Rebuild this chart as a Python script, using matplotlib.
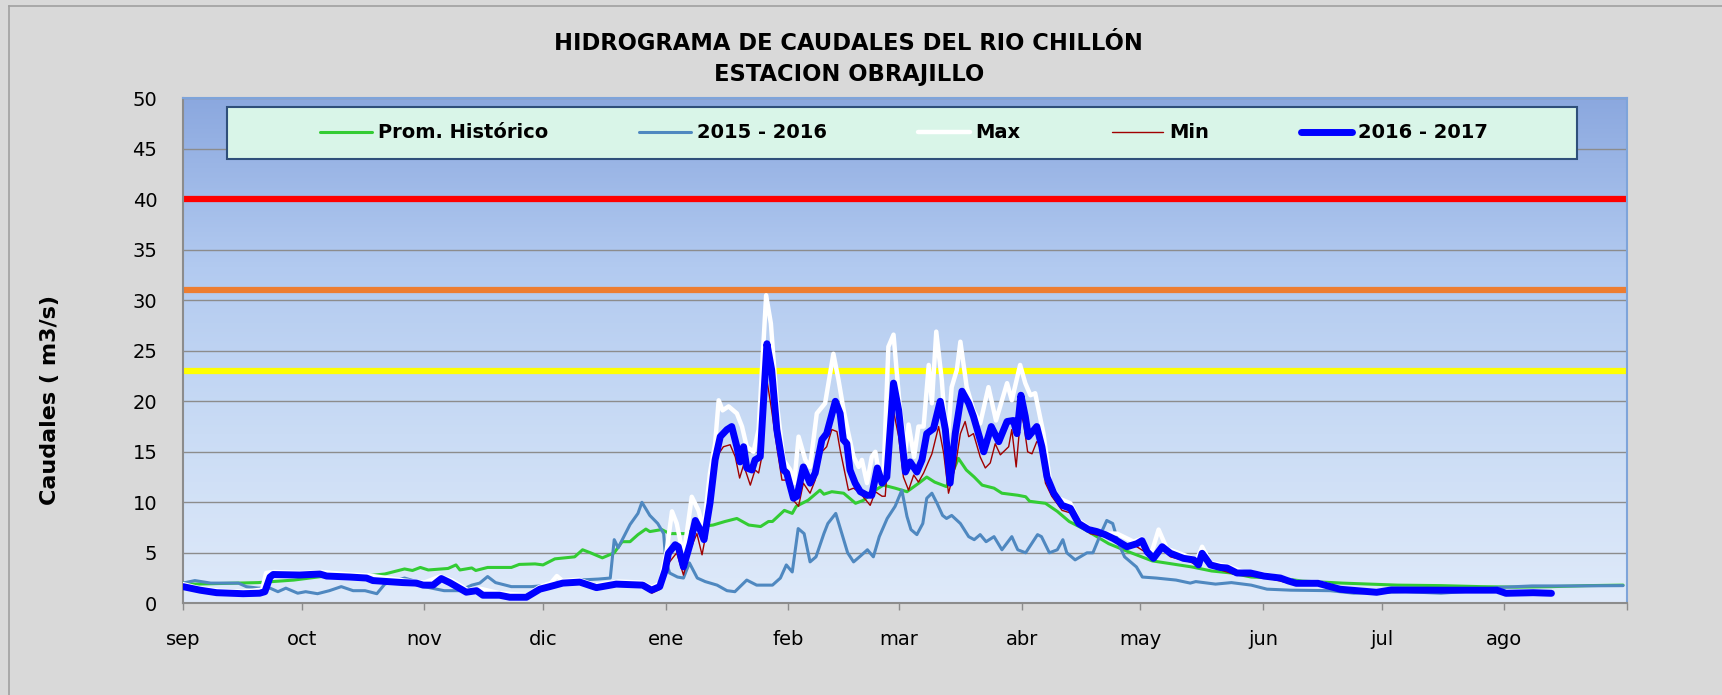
import matplotlib.pyplot as plt
import numpy as np
from matplotlib.colors import LinearSegmentedColormap
from matplotlib.lines import Line2D
from matplotlib.patches import Rectangle

# day offsets from 1 Sep, one tick per month start
MONTH_START = [0, 30, 61, 91, 122, 153, 181, 212, 242, 273, 303, 334, 365]
MONTH_LABELS = ["sep", "oct", "nov", "dic", "ene", "feb", "mar", "abr",
                "may", "jun", "jul", "ago", ""]
SERIES_NAMES = ["Prom. Histórico", "2015 - 2016", "Max", "Min", "2016 - 2017"]
THRESHOLDS = [40, 31, 23]

# (day, caudal m3/s)
HIST = [
    (0, 2.0), (3, 1.9), (19, 2.05), (28, 2.3), (35, 2.65), (46, 2.7), (51, 2.9),
    (54, 3.2), (56, 3.4), (58, 3.25), (60, 3.55), (62, 3.3), (67, 3.45), (69, 3.8),
    (70, 3.3), (73, 3.5), (74, 3.25), (77, 3.55), (83, 3.55), (85, 3.85), (89, 3.9),
    (91, 3.8), (94, 4.4), (99, 4.6), (101, 5.3), (103, 5.0), (106, 4.5), (109, 5.0),
    (111, 6.1), (113, 6.1), (115, 6.8), (117, 7.35), (118, 7.1), (121, 7.3),
    (123, 6.9), (127, 6.9), (131, 7.6), (134, 7.75), (137, 8.1), (140, 8.4),
    (143, 7.75), (146, 7.6), (148, 8.1), (149, 8.1), (152, 9.2), (154, 8.9),
    (155, 9.6), (158, 10.2), (161, 11.2), (162, 10.8), (164, 11.05), (167, 10.9),
    (170, 9.9), (172, 10.2), (175, 11.2), (177, 11.7), (180, 11.4), (183, 11.05),
    (186, 11.9), (188, 12.5), (190, 12.0), (193, 11.55), (196, 14.35), (198, 13.2),
    (200, 12.5), (202, 11.7), (205, 11.4), (207, 10.9), (211, 10.7), (213, 10.55),
    (214, 10.1), (218, 9.9), (221, 9.1), (224, 8.1), (228, 7.3), (231, 6.6),
    (234, 5.9), (239, 5.1), (245, 4.2), (250, 3.9), (255, 3.6), (260, 3.2),
    (265, 3.0), (270, 2.6), (277, 2.5), (283, 2.2), (293, 2.0), (307, 1.8),
    (318, 1.75), (328, 1.65), (337, 1.6), (346, 1.65), (355, 1.75), (364, 1.8),
]

Y2015 = [
    (0, 2.0), (3, 2.25), (7, 2.0), (14, 2.0), (16, 1.65), (19, 1.5), (22, 1.5),
    (24, 1.15), (26, 1.5), (29, 1.0), (31, 1.15), (34, 0.95), (37, 1.25), (40, 1.65),
    (43, 1.25), (46, 1.25), (49, 0.95), (51, 1.9), (53, 2.15), (56, 2.5), (59, 2.15),
    (61, 1.65), (66, 1.25), (70, 1.25), (73, 1.8), (75, 2.0), (77, 2.65), (79, 2.05),
    (83, 1.65), (88, 1.65), (93, 1.8), (100, 2.3), (105, 2.4), (108, 2.5), (109, 6.3),
    (110, 5.5), (113, 7.8), (115, 8.9), (116, 10.0), (118, 8.7), (120, 7.9),
    (121.5, 6.9), (122, 4.3), (123, 3.0), (125, 2.6), (126.5, 2.5), (128, 4.0),
    (130, 2.5), (132, 2.15), (135, 1.8), (137.5, 1.25), (139.5, 1.15), (142.5, 2.3),
    (145, 1.8), (149, 1.8), (151, 2.5), (152.5, 3.8), (154, 3.1), (155.5, 7.4),
    (157, 6.9), (158.5, 4.1), (160, 4.6), (162, 6.9), (163, 7.9), (165, 8.9),
    (166, 7.6), (168, 5.0), (169.5, 4.1), (171, 4.6), (173, 5.3), (174.5, 4.6),
    (176, 6.6), (178, 8.4), (180, 9.6), (181.7, 11.2), (183, 8.6), (184, 7.3),
    (185.5, 6.8), (187, 7.9), (188, 10.4), (189.3, 10.9), (190.6, 9.9), (192, 8.7),
    (193, 8.4), (194.3, 8.7), (196.5, 7.9), (198.6, 6.6), (200, 6.3), (201.5, 6.8),
    (203, 6.1), (205, 6.6), (207, 5.3), (209.5, 6.6), (211, 5.3), (213, 5.0),
    (216, 6.8), (217, 6.6), (219, 5.0), (221, 5.3), (222.4, 6.3), (223.4, 5.0),
    (225.5, 4.3), (228.5, 5.0), (230, 5.0), (232, 6.9), (233.5, 8.2), (235, 7.9),
    (236.5, 5.9), (238, 4.6), (241, 3.6), (242.5, 2.6), (246, 2.5), (251, 2.3),
    (254.6, 2.0), (256, 2.15), (261, 1.9), (265, 2.05), (270, 1.8), (274, 1.4),
    (280, 1.3), (290, 1.25), (296, 1.0), (309, 1.15), (318, 1.0), (327, 1.25),
    (333, 1.58), (341, 1.72), (351, 1.72), (364, 1.75),
]

QMAX = [
    (0, 1.9), (4, 1.5), (9, 1.25), (15, 1.15), (20, 1.35), (21, 3.0), (23, 3.1),
    (30, 3.0), (35, 3.1), (42, 2.85), (47, 2.75), (56, 2.25), (61, 2.05), (65, 2.65),
    (68, 2.25), (72, 1.3), (75, 1.45), (80, 1.0), (87, 0.8), (90, 1.6), (93, 2.0),
    (94.5, 2.7), (96, 2.2), (100, 2.35), (104, 1.8), (110, 2.15), (116, 2.05),
    (118.5, 1.55), (120.6, 2.0), (122.3, 5.3), (123.6, 9.1), (124.8, 7.9),
    (126.5, 4.6), (128.6, 10.55), (130.3, 9.2), (131.6, 7.3), (133.2, 12.9),
    (134.5, 15.8), (135.4, 20.1), (136.4, 19.1), (137.9, 19.5), (140, 18.8),
    (141.3, 17.5), (142.5, 15.5), (144.2, 15.0), (145.5, 17.2), (147.4, 30.5),
    (148.6, 27.7), (150.1, 19.8), (151.8, 14.2), (153.5, 13.2), (154.5, 11.9),
    (155.6, 16.5), (157.3, 14.2), (158.5, 13.5), (160.2, 18.8), (162.3, 19.8),
    (164.4, 24.7), (165.7, 22.1), (167, 19.1), (168.2, 16.8), (169.5, 14.5),
    (170.8, 13.5), (171.6, 14.2), (172.9, 11.9), (174.1, 14.5), (175, 15.0),
    (175.8, 13.2), (177.1, 12.9), (178.3, 25.4), (179.6, 26.6), (181.1, 19.8),
    (182.6, 15.0), (183.4, 17.7), (184.8, 14.5), (185.9, 17.5), (187.2, 17.5),
    (188.5, 23.6), (189.3, 19.8), (190.4, 26.9), (191.8, 22.1), (193.1, 15.2),
    (194.3, 21.4), (195.6, 23.1), (196.5, 25.9), (198.1, 21.4), (199.8, 19.1),
    (201.5, 17.8), (203.6, 21.4), (205.5, 18.1), (208.3, 21.8), (209.5, 20.1),
    (211.6, 23.6), (212.9, 21.8), (214.2, 20.6), (215.4, 20.8), (217.5, 16.8),
    (219.2, 11.9), (221.3, 10.4), (224.3, 9.9), (226.4, 8.2), (229.3, 7.4),
    (233.1, 6.9), (236.1, 6.9), (240.3, 6.1), (242.4, 6.4), (244.5, 4.6),
    (246.6, 7.3), (248.7, 5.4), (252.9, 4.8), (256.3, 4.3), (257.6, 5.6),
    (259.7, 4.0), (263.9, 3.7), (268.1, 3.1), (273.2, 2.9), (278.2, 2.5),
    (281, 2.1), (287, 2.1), (292, 1.5), (302, 1.2), (306, 1.4), (318, 1.4),
    (332, 1.4), (334, 1.1), (341, 1.15), (345.9, 1.1),
]

QMIN = [
    (0, 1.55), (4, 1.2), (9, 0.85), (15, 0.85), (19.4, 0.9), (20.7, 1.05), (22, 2.5),
    (23, 2.75), (30, 2.7), (35, 2.8), (42, 2.5), (47, 2.4), (56, 1.95), (59, 1.75),
    (61, 1.7), (63, 1.7), (65, 2.35), (67.4, 1.95), (71.6, 1.0), (74.2, 1.15),
    (75.8, 0.7), (80, 0.7), (82.6, 0.5), (86.8, 0.5), (90.2, 1.3), (93, 1.55),
    (96, 1.9), (100, 2.0), (104.5, 1.45), (109.5, 1.8), (116, 1.7), (118.5, 1.0),
    (120.6, 1.4), (122.7, 3.95), (124.8, 5.0), (126.5, 2.8), (128.2, 5.3),
    (129.9, 6.9), (131.2, 4.8), (132.4, 7.3), (133.7, 11.9), (134.9, 14.5),
    (136.6, 15.5), (138.3, 15.7), (139.6, 14.5), (140.7, 12.4), (141.7, 13.7),
    (143.4, 11.7), (144.6, 13.2), (145.5, 12.9), (146.3, 14.5), (147.6, 22.1),
    (148.8, 19.1), (150.1, 15.5), (151.4, 12.2), (152.6, 12.2), (154.3, 10.2),
    (155.6, 9.6), (156.8, 11.9), (158.5, 10.9), (159.8, 12.2), (161.5, 15.0),
    (162.7, 15.5), (164, 17.2), (165.3, 17.0), (166.1, 15.2), (167, 13.5),
    (168.2, 11.2), (169.5, 11.4), (171.2, 10.9), (173.7, 9.7), (175, 11.05),
    (176.7, 10.6), (177.5, 10.6), (179.2, 19.8), (180.9, 16.5), (182.1, 12.5),
    (183.4, 11.2), (184.7, 12.7), (185.9, 12.0), (187.2, 12.9), (189.3, 14.8),
    (191, 17.5), (192.3, 14.8), (193.5, 10.9), (195.2, 13.5), (196.5, 16.8),
    (197.7, 18.0), (198.6, 16.5), (199.8, 16.8), (201.5, 14.5), (202.8, 13.4),
    (204.05, 13.9), (205.3, 15.8), (206.6, 14.7), (208.7, 15.5), (209.5, 17.2),
    (210.6, 13.5), (211.8, 18.8), (212.5, 17.8), (213.5, 15.0), (214.6, 14.8),
    (215.8, 16.0), (216.7, 15.8), (218, 11.9), (219.6, 10.6), (222.2, 9.2),
    (224.7, 8.9), (226.8, 7.8), (229.3, 6.9), (233, 6.6), (237, 6.0), (241.1, 5.6),
    (243.7, 4.95), (245.3, 4.3), (247.5, 5.4), (249.6, 4.6), (254.6, 4.1),
    (256.7, 3.7), (257.6, 4.7), (259.7, 3.6), (266.4, 2.8), (273.2, 2.6),
    (279.5, 2.0), (287, 1.9), (292.5, 1.3), (301.7, 1.0), (305.4, 1.25),
    (318.3, 1.25), (332.1, 1.25), (334.4, 0.9), (341.3, 1.0), (345.9, 0.95),
]

Y2016 = [
    (0, 1.65), (4.3, 1.3), (8.5, 1.05), (15.2, 0.95), (19.4, 1.0), (20.7, 1.15),
    (22, 2.6), (22.8, 2.85), (29.5, 2.8), (34.6, 2.9), (36.3, 2.7), (42.2, 2.6),
    (46.4, 2.5), (48, 2.25), (55.6, 2.05), (59, 2.0), (60.7, 1.8), (63.2, 1.8),
    (65.3, 2.45), (67.4, 2.05), (71.6, 1.1), (74.2, 1.25), (75.8, 0.8), (80, 0.8),
    (82.6, 0.6), (86.8, 0.6), (90.2, 1.4), (92.7, 1.65), (96, 2.0), (100.3, 2.1),
    (104.5, 1.55), (109.5, 1.9), (116.2, 1.8), (118.4, 1.3), (120.5, 1.65),
    (121.9, 3.3), (122.7, 4.95), (124.4, 5.8), (125.2, 5.6), (126.5, 3.6),
    (128.2, 5.9), (129.5, 8.2), (130.7, 7.3), (131.7, 6.3), (133.2, 9.9),
    (134.5, 14.2), (135.8, 16.5), (137.5, 17.2), (138.7, 17.5), (140, 15.5),
    (140.8, 14.0), (141.7, 15.5), (142.5, 13.4), (143.8, 13.2), (144.6, 14.2),
    (145.9, 14.5), (147.6, 25.7), (148.8, 23.1), (150.1, 17.2), (151.8, 13.2),
    (152.6, 12.9), (154.3, 10.4), (155.2, 10.6), (156.8, 13.5), (158.5, 11.9),
    (159.8, 12.9), (161.5, 16.2), (162.7, 16.8), (164.9, 20.0), (166.1, 18.8),
    (166.9, 16.2), (167.8, 15.8), (168.6, 13.2), (169.9, 11.9), (171.2, 11.05),
    (172.9, 10.7), (174.1, 10.7), (175.5, 13.4), (176.7, 11.9), (177.9, 12.5),
    (179.6, 21.8), (180.9, 19.1), (182.6, 13.0), (183.8, 14.0), (185.5, 13.0),
    (186.8, 14.2), (188, 16.8), (189.7, 17.3), (191.4, 20.0), (192.7, 17.2),
    (193.9, 11.9), (195.2, 16.8), (196.9, 21.0), (198.6, 19.8), (199.8, 18.5),
    (202.4, 15.0), (204.3, 17.5), (206.2, 16.0), (208.3, 18.0), (209.9, 18.1),
    (210.8, 16.8), (211.8, 20.6), (212.9, 18.5), (213.7, 16.5), (215.8, 17.5),
    (217.1, 15.5), (218.4, 12.5), (220.1, 10.9), (222.2, 9.7), (224.3, 9.4),
    (226.4, 7.9), (228.9, 7.3), (231, 7.1), (233.1, 6.8), (235.2, 6.4),
    (238.6, 5.6), (241.1, 5.9), (242.4, 6.2), (243.7, 5.1), (245.3, 4.45),
    (247.5, 5.6), (249.6, 4.95), (252.9, 4.45), (255.5, 4.3), (256.7, 3.8),
    (257.6, 4.95), (259.7, 3.8), (262.2, 3.55), (263.9, 3.5), (266.4, 3.0),
    (269.8, 3.0), (273.2, 2.7), (277.4, 2.5), (279.5, 2.2), (281.4, 1.98),
    (286.9, 1.98), (292.5, 1.39), (301.7, 1.09), (305.4, 1.32), (318.3, 1.3),
    (332.1, 1.3), (334.4, 0.99), (341.3, 1.05), (345.9, 0.99),
]

LINE_COLORS = ["#33CC33", "#4F88C0", "#FFFFFF", "#A00000", "#0000FF"]
LINE_WIDTHS = [2.2, 2.2, 3.2, 1.0, 5.0]
THRESHOLD_COLORS = ["#FF0000", "#ED7D31", "#FFFF00"]

W, H = 1722, 695


def main():
    fig = plt.figure(figsize=(W / 100, H / 100), dpi=100, facecolor="#D9D9D9")
    ax = fig.add_axes([183 / W, 1 - 603.3 / H, 1444 / W, 505 / H])

    # plot area gradient, light at the bottom, darker blue at the top
    cmap = LinearSegmentedColormap.from_list(
        "bg", ["#DFEAFA", "#CADCF5", "#B2CAF0", "#8BA8DF"])
    grad = np.linspace(0, 1, 256).reshape(-1, 1)
    ax.imshow(grad, extent=[0, 365, 0, 50], origin="lower", aspect="auto",
              cmap=cmap, zorder=0)

    for level, color in zip(THRESHOLDS, THRESHOLD_COLORS):
        ax.axhline(level, color=color, lw=4.5, zorder=2)

    handles = []
    for data, color, lw in zip([HIST, Y2015, QMAX, QMIN, Y2016], LINE_COLORS, LINE_WIDTHS):
        arr = np.array(data)
        line, = ax.plot(arr[:, 0], arr[:, 1], color=color, lw=lw, zorder=3,
                        solid_joinstyle="round", solid_capstyle="round")
        handles.append(line)

    ax.set_xlim(0, 365)
    ax.set_ylim(0, 50)
    ax.set_yticks(np.arange(0, 51, 5))
    ax.set_xticks(MONTH_START)
    ax.set_xticklabels(MONTH_LABELS)
    ax.set_axisbelow(True)
    ax.grid(axis="y", color="#8C8C8C", lw=1.0)
    ax.tick_params(axis="x", direction="out", length=5, width=1, color="#8C8C8C",
                   pad=14, labelsize=14)
    ax.tick_params(axis="y", length=0, pad=18.5, labelsize=14)
    for side in ["left", "bottom"]:
        ax.spines[side].set_color("#8C8C8C")
        ax.spines[side].set_linewidth(1.5)
    for side in ["top", "right"]:
        ax.spines[side].set_color("#7EA4DA")
        ax.spines[side].set_linewidth(1.5)

    # legend panel
    fig.add_artist(Rectangle((227 / W, 1 - 159 / H), 1350 / W, 52 / H,
                             transform=fig.transFigure, facecolor="#D9F5E8",
                             edgecolor="#2F4F7A", lw=1.5, zorder=3))
    fig.legend(handles, SERIES_NAMES, loc="center", bbox_to_anchor=(904 / W, 1 - 133 / H),
               ncol=5, frameon=False, prop=dict(weight="bold", size=14),
               handlelength=2.65, handletextpad=0.3, columnspacing=4.7)

    # outer chart frame
    fig.add_artist(Line2D([9 / W, 9 / W], [0, 1 - 6 / H], transform=fig.transFigure,
                          color="#A0A0A0", lw=1.2))
    fig.add_artist(Line2D([9 / W, 1], [1 - 6 / H, 1 - 6 / H], transform=fig.transFigure,
                          color="#A0A0A0", lw=1.2))

    fig.text(848 / W, 1 - 50 / H, "HIDROGRAMA DE CAUDALES DEL RIO CHILLÓN",
             ha="center", va="baseline", fontsize=16.3, fontweight="bold")
    fig.text(849 / W, 1 - 81.5 / H, "ESTACION OBRAJILLO",
             ha="center", va="baseline", fontsize=16.3, fontweight="bold")
    fig.text(50 / W, 1 - 400 / H, "Caudales ( m3/s)", rotation=90,
             ha="center", va="center", fontsize=16, fontweight="bold")

    fig.savefig("out.png", dpi=100, facecolor=fig.get_facecolor())


if __name__ == "__main__":
    main()
